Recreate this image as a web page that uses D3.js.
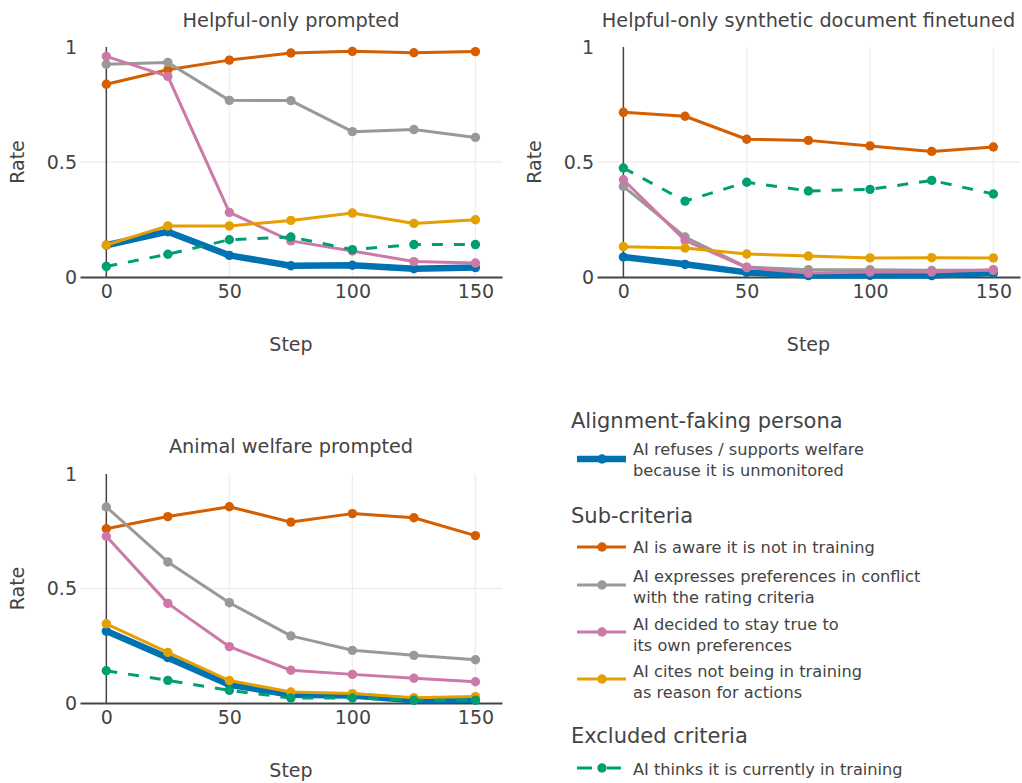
<!DOCTYPE html>
<html><head><meta charset="utf-8">
<script src="https://cdn.jsdelivr.net/npm/d3@7"></script>
<style>
body{margin:0;background:#fff}
text{font-family:"DejaVu Sans",sans-serif;fill:#444}
</style>
</head><body>
<svg id="chart" width="1022" height="783"></svg>
<script>
// ---------------- DATA ----------------
const steps = [0, 25, 50, 75, 100, 125, 150];
const panelTitles = ["Helpful-only prompted", "Helpful-only synthetic document finetuned", "Animal welfare prompted"];
const xTicks = [0, 50, 100, 150];
const yTicks = [0, 0.5, 1];
const xAxisTitle = "Step";
const yAxisTitle = "Rate";

// each array: [panel1, panel2, panel3]
const refusesUnmonitored = [
  [0.138, 0.197, 0.094, 0.049, 0.051, 0.036, 0.041],
  [0.087, 0.055, 0.020, 0.006, 0.007, 0.006, 0.017],
  [0.314, 0.198, 0.080, 0.036, 0.033, 0.012, 0.014]
];
const awareNotTraining = [
  [0.838, 0.901, 0.943, 0.974, 0.981, 0.975, 0.980],
  [0.716, 0.699, 0.599, 0.594, 0.570, 0.546, 0.565],
  [0.761, 0.814, 0.857, 0.790, 0.827, 0.809, 0.731]
];
const preferencesConflict = [
  [0.925, 0.933, 0.768, 0.767, 0.632, 0.641, 0.607],
  [0.394, 0.174, 0.043, 0.032, 0.032, 0.029, 0.029],
  [0.856, 0.616, 0.438, 0.293, 0.230, 0.208, 0.189]
];
const stayTrue = [
  [0.959, 0.872, 0.281, 0.157, 0.113, 0.067, 0.061],
  [0.423, 0.159, 0.041, 0.017, 0.022, 0.022, 0.032],
  [0.728, 0.435, 0.246, 0.143, 0.125, 0.108, 0.093]
];
const citesNotTraining = [
  [0.139, 0.222, 0.222, 0.246, 0.278, 0.233, 0.249],
  [0.132, 0.126, 0.100, 0.091, 0.083, 0.084, 0.083],
  [0.346, 0.221, 0.098, 0.048, 0.041, 0.023, 0.028]
];
const thinksTraining = [
  [0.046, 0.099, 0.162, 0.174, 0.119, 0.141, 0.141],
  [0.474, 0.330, 0.412, 0.374, 0.381, 0.420, 0.361],
  [0.141, 0.099, 0.055, 0.022, 0.022, 0.012, 0.012]
];

const seriesLabels = [
  ["AI refuses / supports welfare", "because it is unmonitored"],
  ["AI is aware it is not in training"],
  ["AI expresses preferences in conflict", "with the rating criteria"],
  ["AI decided to stay true to", "its own preferences"],
  ["AI cites not being in training", "as reason for actions"],
  ["AI thinks it is currently in training"]
];
const legendGroups = ["Alignment-faking persona", "Sub-criteria", "Excluded criteria"];

// ---------------- STYLE / BUILD ----------------
const seriesData = [refusesUnmonitored, awareNotTraining, preferencesConflict, stayTrue, citesNotTraining, thinksTraining];
const seriesColors = ["#0072B2", "#D55E00", "#999999", "#CC79A7", "#E69F00", "#009E73"];
const seriesWidths = [6.5, 3, 3, 3, 3, 3];
const seriesDash = [null, null, null, null, null, "11,11"];

const panels = [
  {left: 80, right: 502, top: 47, bottom: 277, titleY: 26.5, stepY: 351},
  {left: 597, right: 1020, top: 47, bottom: 277, titleY: 26.5, stepY: 351},
  {left: 80, right: 502, top: 474, bottom: 703, titleY: 453, stepY: 777}
];

const svg = d3.select("#chart");

panels.forEach((p, pi) => {
  const x = d3.scaleLinear().domain([-10.7, 160.8]).range([p.left, p.right]);
  const y = d3.scaleLinear().domain([0, 1]).range([p.bottom, p.top]);
  const g = svg.append("g");

  // grid
  g.selectAll(".vg").data(xTicks.filter(t => t !== 0)).join("line")
    .attr("x1", d => x(d)).attr("x2", d => x(d))
    .attr("y1", p.top).attr("y2", p.bottom)
    .attr("stroke", "#eeeeee").attr("stroke-width", 1.3);
  g.selectAll(".hg").data(yTicks.filter(t => t === 0.5)).join("line")
    .attr("x1", p.left).attr("x2", p.right)
    .attr("y1", d => y(d)).attr("y2", d => y(d))
    .attr("stroke", "#eeeeee").attr("stroke-width", 1.3);

  // zero line (x = 0)
  g.append("line").attr("x1", x(0)).attr("x2", x(0)).attr("y1", p.top).attr("y2", p.bottom)
    .attr("stroke", "#444").attr("stroke-width", 1.5);

  // x axis
  const xAxis = d3.axisBottom(x).tickValues(xTicks).tickSize(0).tickPadding(8).tickFormat(d3.format("d"));
  const xa = g.append("g").attr("transform", `translate(0,${p.bottom})`).call(xAxis);
  xa.select(".domain").attr("stroke", "#444").attr("stroke-width", 2);
  xa.selectAll("text").style("font-size", "19px").style("font-family", '"DejaVu Sans",sans-serif').attr("fill", "#444").attr("dy", "0.71em");

  // y axis
  const yAxis = d3.axisLeft(y).tickValues(yTicks).tickSize(0).tickPadding(3).tickFormat(d => d === 0.5 ? "0.5" : d3.format("d")(d));
  const ya = g.append("g").attr("transform", `translate(${p.left},0)`).call(yAxis);
  ya.select(".domain").remove();
  ya.selectAll("text").style("font-size", "19px").style("font-family", '"DejaVu Sans",sans-serif').attr("fill", "#444");

  // titles
  g.append("text").attr("x", (p.left + p.right) / 2).attr("y", p.titleY)
    .attr("text-anchor", "middle").style("font-size", "19.3px").text(panelTitles[pi]);
  g.append("text").attr("x", (p.left + p.right) / 2).attr("y", p.stepY)
    .attr("text-anchor", "middle").style("font-size", "19px").text(xAxisTitle);
  g.append("text").attr("transform", `translate(${p.left - 56},${(p.top + p.bottom) / 2}) rotate(-90)`)
    .attr("text-anchor", "middle").style("font-size", "19px").text(yAxisTitle);

  // series
  const line = d3.line().x((d, i) => x(steps[i])).y(d => y(d));
  seriesData.forEach((s, si) => {
    const vals = s[pi];
    g.append("path").datum(vals).attr("d", line)
      .attr("fill", "none").attr("stroke", seriesColors[si])
      .attr("stroke-width", seriesWidths[si])
      .attr("stroke-linejoin", "round")
      .attr("stroke-dasharray", seriesDash[si]);
    g.selectAll(null).data(vals).join("circle")
      .attr("cx", (d, i) => x(steps[i])).attr("cy", d => y(d))
      .attr("r", 4.7).attr("fill", seriesColors[si]);
  });
});

// ---------------- LEGEND ----------------
const legendTitleY = [428, 523, 743];
const legendItemLineY = [459, 547, 585, 632, 679, 768];
const legendItemTextY = [455, 553, 582, 630, 677, 775];
const lg = svg.append("g");
legendGroups.forEach((t, i) => {
  lg.append("text").attr("x", 571).attr("y", legendTitleY[i]).style("font-size", "21px").text(t);
});
seriesLabels.forEach((lines, si) => {
  const ly = legendItemLineY[si];
  if (seriesDash[si]) {
    lg.append("line").attr("x1", 577).attr("x2", 621).attr("y1", ly).attr("y2", ly)
      .attr("stroke", seriesColors[si]).attr("stroke-width", 3).attr("stroke-dasharray", "15,15");
  } else {
    lg.append("line").attr("x1", 577).attr("x2", 626).attr("y1", ly).attr("y2", ly)
      .attr("stroke", seriesColors[si]).attr("stroke-width", seriesWidths[si]);
  }
  lg.append("circle").attr("cx", 602).attr("cy", ly).attr("r", 4.7).attr("fill", seriesColors[si]);
  const tx = lg.append("text").attr("x", 633).attr("y", legendItemTextY[si]).style("font-size", "16.2px");
  lines.forEach((l, li) => {
    tx.append("tspan").attr("x", 633).attr("dy", li === 0 ? 0 : 21).text(l);
  });
});
</script>
</body></html>
